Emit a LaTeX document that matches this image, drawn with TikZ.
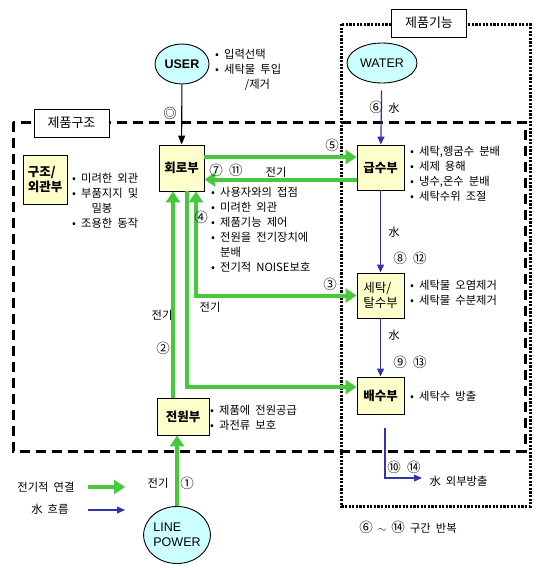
\documentclass[tikz,border=0pt]{standalone}
\usepackage{fontspec}
\setmainfont{Noto Sans CJK KR}[WordSpace=2]
\newfontfamily\latinfont{Liberation Sans}
\usetikzlibrary{positioning, calc, arrows.meta, shapes.geometric}
\definecolor{elecgreen}{RGB}{72,200,60}
\definecolor{waterblue}{RGB}{51,51,170}
\definecolor{boxfill}{RGB}{255,255,204}
\definecolor{ovalfill}{RGB}{204,255,255}

\begin{document}
\begin{tikzpicture}[x=1pt, y=-1pt, font=\fontsize{11.3}{15}\selectfont]
    \tikzstyle{block}=[draw=black, line width=0.9pt, fill=boxfill, rectangle, minimum width=47pt, minimum height=45pt, inner sep=0pt, font=\fontsize{12.5}{15}\selectfont\bfseries]
    \tikzstyle{oval}=[draw=black, line width=0.9pt, fill=ovalfill, ellipse, minimum height=40pt, inner sep=0pt, font=\fontsize{12.5}{15}\selectfont\latinfont]
    \tikzstyle{titlebox}=[draw=black, line width=0.9pt, fill=white, minimum width=75pt, minimum height=28pt, inner sep=0pt, font=\fontsize{13}{15}\selectfont]
    \tikzstyle{annot}=[inner sep=0pt, align=left, anchor=north west]
    \tikzstyle{num}=[inner sep=0pt, font=\fontsize{13.5}{15}\selectfont]
    \tikzstyle{elec}=[draw=elecgreen, line width=4pt, >={Triangle[length=11pt, width=14pt]}, ->]
    \tikzstyle{wat}=[draw=waterblue, line width=1.2pt, >={Triangle[length=8pt, width=7pt]}, ->]
    \useasboundingbox (0,0) rectangle (543,568);

    % frames
    \draw[line width=3pt, dash pattern=on 2.2pt off 1.4pt] (341.5,24) rectangle (530,506.5);
    \draw[line width=3pt, dash pattern=on 10pt off 6pt] (13,122) rectangle (525,451);
    \node[titlebox] (fnc) at (429,23) {제품기능};
    \node[titlebox] (struct) at (71.5,123) {제품구조};

    % ovals and blocks
    \node[oval, minimum width=54pt, font=\fontsize{12.5}{15}\selectfont\latinfont\bfseries] (user) at (182,64) {USER};
    \node[oval, minimum width=70pt] (water) at (382,63) {WATER};
    \node[oval, minimum width=63pt, minimum height=57pt, align=left] (power) at (177,535) {LINE\\POWER};
    \node[block, minimum width=45pt, minimum height=46pt] (hoero) at (181.5,168) {회로부};
    \node[block] (gupsu) at (380.5,167.5) {급수부};
    \node[block, align=left, font=\fontsize{12.5}{15}\selectfont] (setak) at (380.5,295.5) {세탁/\\탈수부};
    \node[block, minimum height=37pt] (baesu) at (380.5,395.5) {배수부};
    \node[block, minimum width=52pt, minimum height=37pt] (jeonwon) at (183,416.5) {전원부};
    \node[block, minimum width=44pt, minimum height=49pt, align=left] (gujo) at (45,179.5) {구조/\\외관부};

    % bullet lists
    \node[annot] (userlist) at (215,49) {• 입력선택\\• 세탁물 투입\\\hphantom{• 세탁}/제거};
    \node[annot] (gujolist) at (72,173) {• 미려한 외관\\• 부품지지 및\\\hphantom{• 부}밀봉\\• 조용한 동작};
    \node[annot] (hoerolist) at (211,187) {• 사용자와의 접점\\• 미려한 외관\\• 제품기능 제어\\• 전원을 전기장치에\\\hphantom{• }분배\\• 전기적 NOISE보호};
    \node[annot] (gupsulist) at (410,146) {• 세탁,헹굼수 분배\\• 세제 용해\\• 냉수,온수 분배\\• 세탁수위 조절};
    \node[annot] (setaklist) at (410,280) {• 세탁물 오염제거\\• 세탁물 수분제거};
    \node[annot, anchor=west] (baesulist) at (410,396) {• 세탁수 방출};
    \node[annot] (jeonwonlist) at (210,405) {• 제품에 전원공급\\• 과전류 보호};

    % user and water flow
    \draw[black, line width=1.1pt, -{Triangle[length=9pt, width=7pt]}] (user) -- (hoero);
    \node[num] at (170,113) {◎};
    \draw[wat, shorten <=7pt] (water) -- (gupsu);
    \node[num] at (376,107) {⑥};
    \node at (394,108) {水};
    \draw[wat] (gupsu) -- (setak);
    \node at (394,232) {水};
    \node[num] at (410,258) {⑧ ⑫};
    \draw[wat] (setak) -- (baesu);
    \node at (394,335) {水};
    \node[num] at (410,362) {⑨ ⑬};
    \coordinate (drain) at (422,478);
    \draw[wat, shorten <=14pt] ([xshift=4.5pt]baesu.south) |- (drain);
    \node[num] at (404,467) {⑩ ⑭};
    \node[anchor=west] at (426,481) {水 외부방출};

    % electric connections
    \draw[elec] ([yshift=11pt]hoero.east) -- ([yshift=11pt]hoero.east -| gupsu.west);
    \node[num] at (332,145) {⑤};
    \draw[elec] ([yshift=-12pt]gupsu.west) -- ([yshift=-12pt]gupsu.west -| hoero.east);
    \node[num] at (226,170) {⑦ ⑪};
    \node at (276,172) {전기};
    \draw[elec, <->] ([xshift=14.5pt]hoero.south) |- (setak.west);
    \node[num] at (201,217) {④};
    \node[num] at (330,284) {③};
    \node at (210,307) {전기};
    \draw[elec] ([xshift=5.5pt]hoero.south) |- ([yshift=8.5pt]baesu.west);
    \draw[elec] ([xshift=-10pt]jeonwon.north) -- ([xshift=-10pt]jeonwon.north |- hoero.south);
    \node at (162,315) {전기};
    \node[num] at (163,348) {②};
    \draw[elec] (power) -- (power |- jeonwon.south);
    \node at (158,483) {전기};
    \node[num] at (187,483) {①};

    % legend
    \node[anchor=east] (legelec) at (78,487) {전기적 연결};
    \coordinate (legelecend) at (125,487);
    \draw[elec] ([xshift=10pt]legelec.east) -- (legelecend);
    \node[anchor=east] (legwat) at (72,509) {水 흐름};
    \coordinate (legwatend) at (125,510);
    \draw[wat] ([xshift=16pt]legwat.east |- legwatend) -- (legwatend);
    \node at (408,527) {{\fontsize{13.5}{15}\selectfont⑥} $\sim$ {\fontsize{13.5}{15}\selectfont⑭} 구간 반복};
\end{tikzpicture}
\end{document}
